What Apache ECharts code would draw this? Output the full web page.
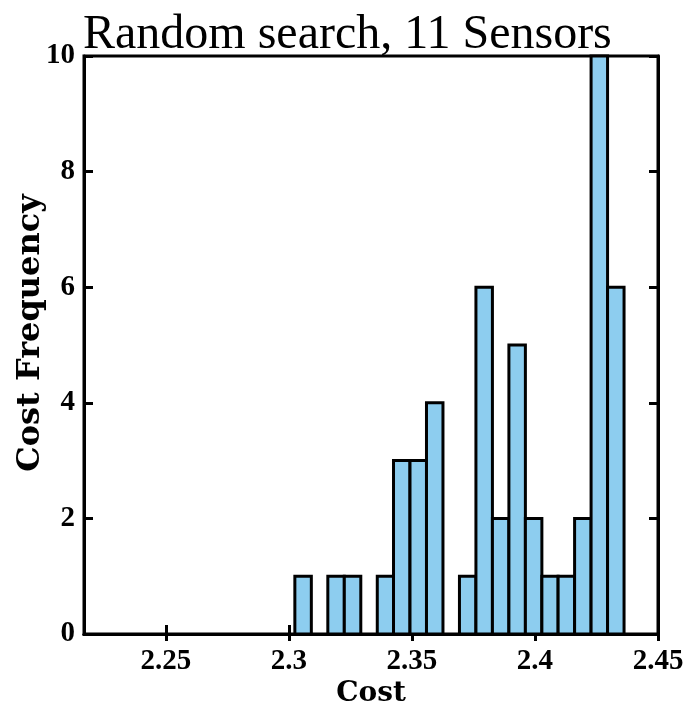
<!DOCTYPE html>
<html>
<head>
<meta charset="utf-8">
<script src="https://cdn.jsdelivr.net/npm/echarts@6/dist/echarts.min.js"></script>
<style>
html,body{margin:0;padding:0;background:#fff;}
#chart{width:687px;height:704px;}
</style>
</head>
<body>
<div id="chart"></div>
<script>
// Histogram bin edges (Cost) and counts (Cost Frequency)
const binEdges = [2.3024, 2.3091, 2.3158, 2.3225, 2.3292, 2.3359, 2.3425, 2.3492, 2.3559, 2.3626,
                  2.3693, 2.3760, 2.3827, 2.3894, 2.3961, 2.4028, 2.4094, 2.4161, 2.4228, 2.4295, 2.4362];
const counts   = [1, 0, 1, 1, 0, 1, 3, 3, 4, 0, 1, 6, 2, 5, 2, 1, 1, 2, 10, 6];
const xTicks   = [2.25, 2.3, 2.35, 2.4, 2.45];
const xLabels  = ['2.25', '2.3', '2.35', '2.4', '2.45'];
const yTicks   = [0, 2, 4, 6, 8, 10];

const barData = counts.map((c, i) => [binEdges[i], binEdges[i + 1], c]);

const chart = echarts.init(document.getElementById('chart'), null, {renderer: 'canvas'});
const tickFont = {fontFamily: 'Liberation Serif', fontWeight: 'bold', fontSize: 29, color: '#000'};
const xNameFont = {fontFamily: 'DejaVu Serif', fontWeight: 'bold', fontSize: 28, color: '#000'};
const yNameFont = {fontFamily: 'DejaVu Serif', fontWeight: 'bold', fontSize: 32, color: '#000', padding: [0, 0, 0, 24]};

chart.setOption({
  animation: false,
  backgroundColor: '#fff',
  title: {
    text: 'Random search, 11 Sensors',
    left: 78, top: 6,
    textStyle: {fontFamily: 'Liberation Serif', fontWeight: 'normal', fontSize: 48, color: '#000'}
  },
  grid: {left: 84, right: 29, top: 56, bottom: 70, show: true, borderColor: '#000', borderWidth: 3,
         backgroundColor: 'transparent', containLabel: false, outerBoundsMode: 'none'},
  xAxis: [{
    type: 'value', min: 2.2167, max: 2.45,
    name: 'Cost', nameLocation: 'middle', nameGap: 46, nameTextStyle: xNameFont, nameMoveOverlap: false,
    axisLine: {show: true, lineStyle: {color: '#000', width: 3}},
    axisTick: {show: true, inside: true, length: 9, lineStyle: {color: '#000', width: 3}, customValues: xTicks},
    axisLabel: Object.assign({margin: 13, customValues: xTicks, showMaxLabel: true, showMinLabel: true,
      formatter: v => xLabels[xTicks.findIndex(t => Math.abs(t - v) < 1e-9)] || ''}, tickFont),
    splitLine: {show: false}
  }, {
    type: 'value', min: 2.2167, max: 2.45, position: 'top',
    axisLine: {show: true, lineStyle: {color: '#000', width: 3}},
    axisTick: {show: true, inside: true, length: 7, lineStyle: {color: '#000', width: 3}, customValues: xTicks},
    axisLabel: {show: false},
    splitLine: {show: false}
  }],
  yAxis: [{
    type: 'value', min: 0, max: 10, interval: 2,
    name: 'Cost Frequency', nameLocation: 'middle', nameGap: 37, nameTextStyle: yNameFont, nameMoveOverlap: false,
    axisLine: {show: true, lineStyle: {color: '#000', width: 3}},
    axisTick: {show: true, inside: true, length: 9, lineStyle: {color: '#000', width: 3}},
    axisLabel: Object.assign({margin: 9, customValues: yTicks}, tickFont),
    splitLine: {show: false}
  }, {
    type: 'value', min: 0, max: 10, interval: 2, position: 'right',
    axisLine: {show: true, lineStyle: {color: '#000', width: 3}},
    axisTick: {show: true, inside: true, length: 9, lineStyle: {color: '#000', width: 3}},
    axisLabel: {show: false},
    splitLine: {show: false}
  }],
  series: [{
    type: 'custom',
    xAxisIndex: 0, yAxisIndex: 0,
    data: barData,
    encode: {x: [0, 1], y: 2},
    renderItem: function (params, api) {
      const h = api.value(2);
      if (!h) return null;
      const p0 = api.coord([api.value(0), h]);
      const p1 = api.coord([api.value(1), 0]);
      return {
        type: 'rect',
        shape: {x: p0[0], y: p0[1], width: p1[0] - p0[0], height: p1[1] - p0[1]},
        style: {fill: '#8DCDEF', stroke: '#000', lineWidth: 3}
      };
    },
    z: 1
  }]
});
</script>
</body>
</html>
